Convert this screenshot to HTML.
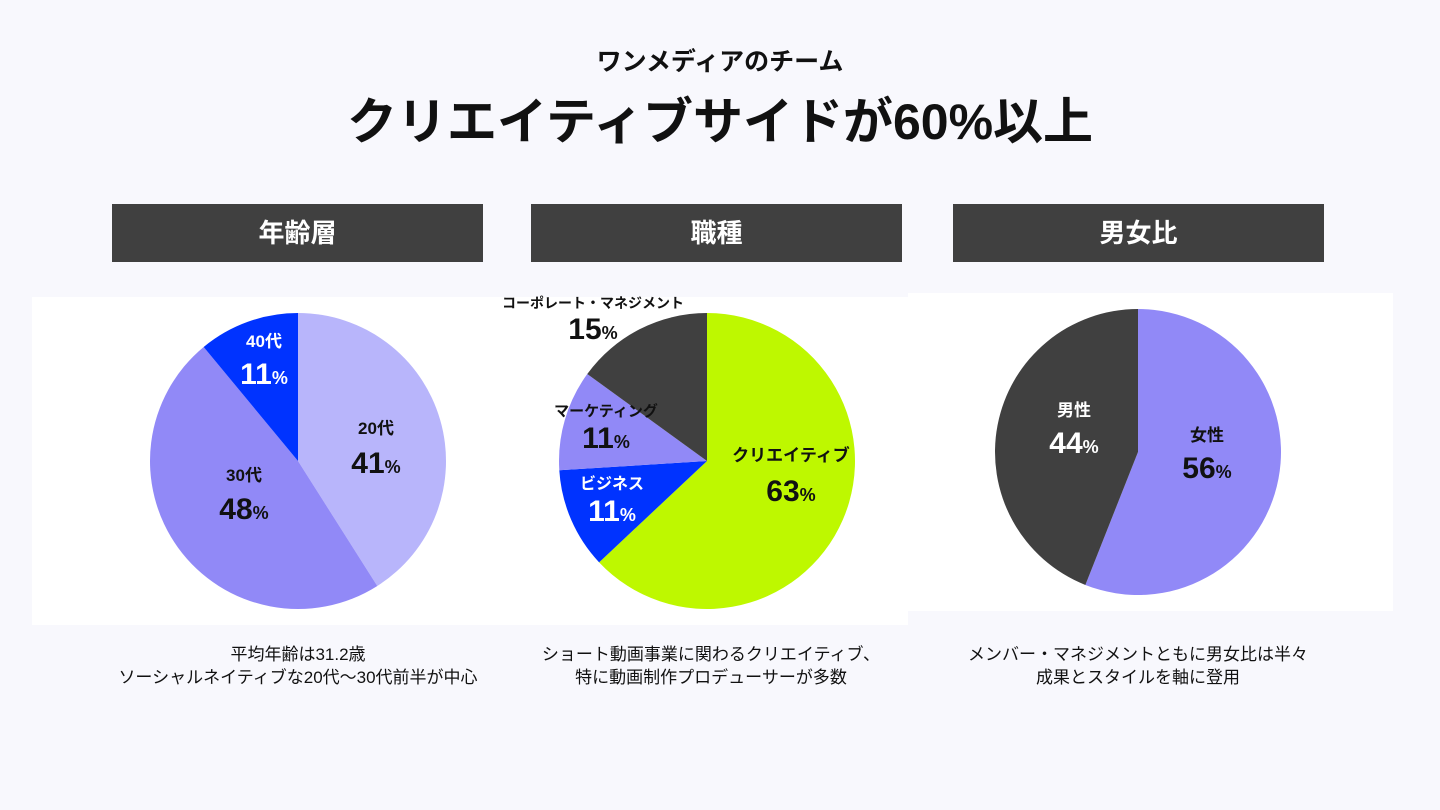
<!DOCTYPE html>
<html><head><meta charset="utf-8"><style>
body{margin:0;width:1440px;height:810px;background:#f8f8fd;font-family:"Liberation Sans","Noto Sans CJK JP",sans-serif;position:relative;overflow:hidden}
.abs{position:absolute}
.hdr{position:absolute;top:204px;height:58px;width:371px;background:#404040;color:#fff;font-weight:bold;font-size:26px;line-height:58px;text-align:center}
.cap{position:absolute;top:643px;width:440px;text-align:center;font-size:17px;line-height:23px;color:#111}
.panel{position:absolute;background:#fff}
</style></head><body>
<div class="abs" style="top:42px;left:0;width:1440px;text-align:center;font-size:25px;font-weight:bold;color:#111">ワンメディアのチーム</div>
<div class="abs" style="top:82px;left:0;width:1440px;text-align:center;font-size:50px;font-weight:bold;color:#111">クリエイティブサイドが60%以上</div>
<div class="hdr" style="left:112px">年齢層</div>
<div class="hdr" style="left:531px">職種</div>
<div class="hdr" style="left:953px">男女比</div>
<div class="panel" style="left:32px;top:297px;width:470px;height:328px"></div>
<div class="panel" style="left:490px;top:297px;width:418px;height:328px"></div>
<div class="panel" style="left:908px;top:293px;width:485px;height:318px"></div>
<svg class="abs" style="left:0;top:0" width="1440" height="810" id="charts"></svg>
<div class="cap" style="left:78px">平均年齢は31.2歳<br>ソーシャルネイティブな20代〜30代前半が中心</div>
<div class="cap" style="left:491px">ショート動画事業に関わるクリエイティブ、<br>特に動画制作プロデューサーが多数</div>
<div class="cap" style="left:918px">メンバー・マネジメントともに男女比は半々<br>成果とスタイルを軸に登用</div>
<script>
const ageLabels=["20代","30代","40代"];
const ageValues=[41,48,11];
const jobLabels=["クリエイティブ","ビジネス","マーケティング","コーポレート・マネジメント"];
const jobValues=[63,11,11,15];
const genderLabels=["女性","男性"];
const genderValues=[56,44];
const NS="http://www.w3.org/2000/svg";
const svg=document.getElementById('charts');
function pie(cx,cy,r,vals,colors,name){
  const tot=vals.reduce((a,b)=>a+b,0);let a=0;
  vals.forEach((v,i)=>{
    const a0=a/tot*2*Math.PI,a1=(a+v)/tot*2*Math.PI;a+=v;
    const x0=cx+r*Math.sin(a0),y0=cy-r*Math.cos(a0),x1=cx+r*Math.sin(a1),y1=cy-r*Math.cos(a1);
    const p=document.createElementNS(NS,'path');
    p.setAttribute('d',`M${cx},${cy}L${x0},${y0}A${r},${r} 0 ${a1-a0>Math.PI?1:0} 1 ${x1},${y1}Z`);
    p.setAttribute('fill',colors[i]);
    
    
    svg.appendChild(p);
  });
}
function label(x,y,ny,name,val,color,nameSize){
  const t=document.createElementNS(NS,'text');
  t.setAttribute('x',x);t.setAttribute('y',y+6);t.setAttribute('text-anchor','middle');
  t.setAttribute('fill',color);t.setAttribute('font-weight','bold');t.setAttribute('font-size',nameSize||17);
  t.textContent=name;
  
  
  svg.appendChild(t);
  const v=document.createElementNS(NS,'text');
  v.setAttribute('x',x);v.setAttribute('y',ny+11);v.setAttribute('text-anchor','middle');
  v.setAttribute('fill',color);v.setAttribute('font-weight','bold');v.setAttribute('font-size',30);
  v.innerHTML=val+'<tspan font-size="18">%</tspan>';
  
  
  svg.appendChild(v);
}
pie(298,461,148,ageValues,["#b8b5fb","#9189f7","#0033ff"],'age');
label(376,428,462,ageLabels[0],ageValues[0],"#111");
label(244,475,508,ageLabels[1],ageValues[1],"#111");
label(264,341,373,ageLabels[2],ageValues[2],"#fff");
pie(707,461,148,jobValues,["#bef800","#0033ff","#9189f7","#404040"],'job');
label(791,455,490,jobLabels[0],jobValues[0],"#111");
label(612,483,510,jobLabels[1],jobValues[1],"#fff",16);
label(606,410,437,jobLabels[2],jobValues[2],"#111",15);
label(593,302,328,jobLabels[3],jobValues[3],"#111",14);
pie(1138,452,143,genderValues,["#9189f7","#404040"],'gender');
label(1207,435,467,genderLabels[0],genderValues[0],"#111");
label(1074,410,442,genderLabels[1],genderValues[1],"#fff");
</script>
</body></html>
